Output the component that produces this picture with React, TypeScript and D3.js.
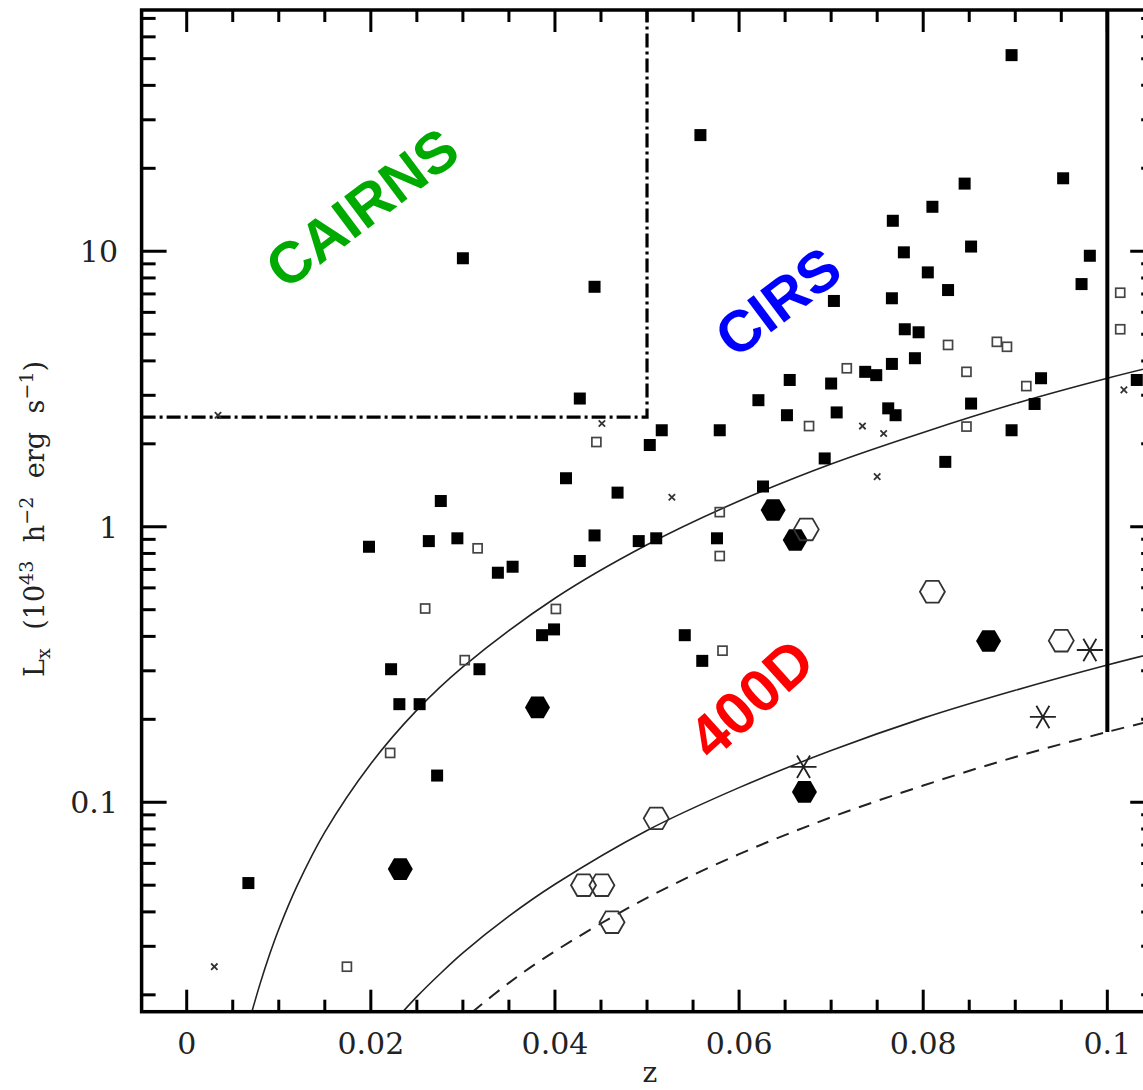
import React from "react";
import * as d3 from "d3";

const W = 1143;
const H = 1090;

// ---------- data (z, Lx in 1e43 h^-2 erg/s) ----------
const filledSqZ = [0.0558, 0.0300, 0.0443, 0.0427, 0.0516, 0.0503, 0.0579, 0.0621, 0.0896, 0.0845, 0.0952, 0.0810, 0.0767, 0.0779, 0.0852, 0.0981, 0.0972, 0.0805, 0.0827, 0.0766, 0.0703, 0.0780, 0.0795, 0.0791, 0.0766, 0.0737, 0.0749, 0.0655, 0.0700, 0.0652, 0.0706, 0.0762, 0.0770, 0.0852, 0.0896, 0.0928, 0.0921, 0.1032, 0.0412, 0.0468, 0.0626, 0.0576, 0.0276, 0.0263, 0.0294, 0.0338, 0.0354, 0.0427, 0.0443, 0.0491, 0.0510, 0.0386, 0.0399, 0.0541, 0.0560, 0.0222, 0.0318, 0.0231, 0.0253, 0.0272, 0.0198, 0.0693, 0.0824, 0.0067];
const filledSqL = [26.4, 9.43, 7.43, 2.92, 2.24, 1.98, 2.24, 2.88, 51.5, 17.6, 18.4, 14.5, 12.9, 9.91, 10.4, 9.63, 7.6, 8.38, 7.23, 6.75, 6.6, 5.21, 5.08, 4.09, 3.9, 3.65, 3.55, 3.41, 3.31, 2.54, 2.6, 2.69, 2.54, 2.8, 2.24, 3.46, 2.79, 3.41, 1.5, 1.33, 1.4, 0.908, 1.24, 0.887, 0.908, 0.681, 0.716, 0.751, 0.93, 0.887, 0.908, 0.404, 0.424, 0.404, 0.326, 0.304, 0.304, 0.227, 0.227, 0.125, 0.846, 1.77, 1.72, 0.0509];

const openSqZ = [0.0445, 0.0827, 0.0880, 0.0891, 0.0847, 0.0717, 0.0676, 0.0847, 0.0912, 0.1014, 0.1014, 0.0579, 0.0579, 0.0316, 0.0259, 0.0401, 0.0582, 0.0302, 0.0221, 0.0174];
const openSqL = [2.03, 4.57, 4.69, 4.5, 3.65, 3.76, 2.32, 2.31, 3.24, 7.07, 5.21, 1.13, 0.783, 0.835, 0.505, 0.503, 0.355, 0.328, 0.151, 0.0253];

const crossZ = [0.0451, 0.0734, 0.0757, 0.1018, 0.0527, 0.0750, 0.0030, 0.0034];
const crossL = [2.37, 2.32, 2.18, 3.14, 1.28, 1.52, 0.0253, 2.54];

const filledHexZ = [0.0637, 0.0661, 0.0871, 0.0381, 0.0671, 0.0232];
const filledHexL = [1.15, 0.895, 0.385, 0.221, 0.109, 0.0572];

const openHexZ = [0.0673, 0.0810, 0.0950, 0.0510, 0.0431, 0.0451, 0.0462];
const openHexL = [0.978, 0.581, 0.386, 0.0874, 0.05, 0.05, 0.0367];

const starZ = [0.0981, 0.0930, 0.0670];
const starL = [0.357, 0.204, 0.1345];

// flux-limit curves
const upperCurveZ = [0.007, 0.008, 0.009, 0.01, 0.012, 0.015, 0.02, 0.025, 0.03, 0.04, 0.05, 0.06, 0.07, 0.08, 0.09, 0.1, 0.106];
const upperCurveL = [0.017, 0.0221, 0.028, 0.0346, 0.0498, 0.0779, 0.138, 0.216, 0.31, 0.55, 0.86, 1.24, 1.69, 2.2, 2.8, 3.46, 3.88];
const lowerCurveZ = [0.0233, 0.025, 0.0275, 0.03, 0.035, 0.04, 0.05, 0.06, 0.07, 0.08, 0.09, 0.1, 0.106];
const lowerCurveL = [0.0171, 0.0197, 0.0238, 0.0284, 0.0386, 0.0504, 0.079, 0.113, 0.154, 0.202, 0.255, 0.315, 0.354];
const dashCurveZ = [0.031, 0.035, 0.04, 0.05, 0.06, 0.07, 0.08, 0.09, 0.1, 0.106];
const dashCurveL = [0.0173, 0.0221, 0.0288, 0.045, 0.0648, 0.0882, 0.115, 0.146, 0.18, 0.202];

// survey boundaries
const cairnsLimitZ = 0.05;
const cairnsLimitL = 2.5;
const cirsLimitZ = 0.1;

// ticks
const xMajorTicks = [0, 0.02, 0.04, 0.06, 0.08, 0.1];
const xTickLabels = ["0", "0.02", "0.04", "0.06", "0.08", "0.1"];
const yMajorTicks = [0.1, 1, 10];
const yTickLabels = ["0.1", "1", "10"];

const SERIF = "'DejaVu Serif', serif";
const SANS = "'Liberation Sans', Arial, sans-serif";

export default function App() {
  const x = d3.scaleLinear().domain([-0.0049, 0.1052]).range([141.6, 1155.2]);
  const y = d3.scaleLog().domain([0.01737, 75.1]).range([1011.7, 10]);
  const [x0, x1] = x.range();
  const [yB, yT] = y.range();

  const xMinor = d3.range(0, 0.1051, 0.005).filter(
    (v) => !xMajorTicks.some((m) => Math.abs(m - v) < 1e-9)
  );
  const yMinor: number[] = [];
  [0.01, 0.1, 1, 10].forEach((dec) => {
    for (let m = 2; m <= 9; m++) {
      const v = m * dec;
      if (v > y.domain()[0] && v < y.domain()[1]) yMinor.push(v);
    }
  });

  const line = d3
    .line<[number, number]>()
    .x((d) => x(d[0]))
    .y((d) => y(d[1]))
    .curve(d3.curveCatmullRom);

  const zip = (a: number[], b: number[]) => a.map((v, i) => [v, b[i]] as [number, number]);

  const hexPath = (cx: number, cy: number, r: number) => {
    const p = d3.path();
    for (let k = 0; k < 6; k++) {
      const a = (Math.PI / 3) * k;
      const px = cx + r * Math.cos(a);
      const py = cy + r * Math.sin(a);
      if (k === 0) p.moveTo(px, py);
      else p.lineTo(px, py);
    }
    p.closePath();
    return p.toString();
  };

  const starPath = (cx: number, cy: number, r: number) => {
    const p = d3.path();
    [0, 60, 120].forEach((deg) => {
      const a = (deg * Math.PI) / 180;
      p.moveTo(cx - r * Math.cos(a), cy - r * Math.sin(a));
      p.lineTo(cx + r * Math.cos(a), cy + r * Math.sin(a));
    });
    return p.toString();
  };

  const crossPath = (cx: number, cy: number, r: number) => {
    const p = d3.path();
    p.moveTo(cx - r, cy - r);
    p.lineTo(cx + r, cy + r);
    p.moveTo(cx + r, cy - r);
    p.lineTo(cx - r, cy + r);
    return p.toString();
  };

  const majLen = 22;
  const minLen = 12;
  const yMajLen = 25;
  const yMinLen = 14;

  return (
    <svg
      width={W}
      height={H}
      style={{ position: "absolute", left: 0, top: 0, background: "#fff" }}
    >
      <defs>
        <clipPath id="plotclip">
          <rect x={x0} y={yT} width={x1 - x0} height={yB - yT} />
        </clipPath>
      </defs>
      <rect x={0} y={0} width={W} height={H} fill="#fff" />

      <g clipPath="url(#plotclip)">
        {/* curves */}
        <path d={line(zip(upperCurveZ, upperCurveL)) || ""} fill="none" stroke="#222" strokeWidth={1.6} />
        <path d={line(zip(lowerCurveZ, lowerCurveL)) || ""} fill="none" stroke="#222" strokeWidth={1.6} />
        <path
          d={line(zip(dashCurveZ, dashCurveL)) || ""}
          fill="none"
          stroke="#222"
          strokeWidth={2}
          strokeDasharray="13 9"
        />
        {/* CAIRNS box */}
        <path
          d={`M${x0},${y(cairnsLimitL)}H${x(cairnsLimitZ)}V${yT}`}
          fill="none"
          stroke="#000"
          strokeWidth={3.2}
          strokeDasharray="14 4 3 4"
        />
        {/* CIRS limit */}
        <line
          x1={x(cirsLimitZ)}
          x2={x(cirsLimitZ)}
          y1={yT}
          y2={y(dashCurveL[dashCurveZ.indexOf(0.1)])}
          stroke="#000"
          strokeWidth={4}
        />

        {/* markers */}
        {filledSqZ.map((z, i) => (
          <rect key={"fs" + i} x={x(z) - 6} y={y(filledSqL[i]) - 6} width={12} height={12} fill="#000" />
        ))}
        {openSqZ.map((z, i) => (
          <rect
            key={"os" + i}
            x={x(z) - 4.5}
            y={y(openSqL[i]) - 4.5}
            width={9}
            height={9}
            fill="none"
            stroke="#444"
            strokeWidth={1.7}
          />
        ))}
        {crossZ.map((z, i) => (
          <path key={"cx" + i} d={crossPath(x(z), y(crossL[i]), 3.2)} stroke="#333" strokeWidth={1.8} fill="none" />
        ))}
        {filledHexZ.map((z, i) => (
          <path key={"fh" + i} d={hexPath(x(z), y(filledHexL[i]), 12.5)} fill="#000" />
        ))}
        {openHexZ.map((z, i) => (
          <path
            key={"oh" + i}
            d={hexPath(x(z), y(openHexL[i]), 12.5)}
            fill="none"
            stroke="#333"
            strokeWidth={1.8}
          />
        ))}
        {starZ.map((z, i) => (
          <path key={"st" + i} d={starPath(x(z), y(starL[i]), 13)} stroke="#222" strokeWidth={1.8} fill="none" />
        ))}
      </g>

      {/* frame */}
      <rect x={x0} y={yT} width={x1 - x0} height={yB - yT} fill="none" stroke="#000" strokeWidth={3.5} />

      {/* x ticks */}
      {xMajorTicks.map((v) => (
        <g key={"xM" + v}>
          <line x1={x(v)} x2={x(v)} y1={yB} y2={yB - majLen} stroke="#000" strokeWidth={3} />
          <line x1={x(v)} x2={x(v)} y1={yT} y2={yT + majLen} stroke="#000" strokeWidth={3} />
        </g>
      ))}
      {xMinor.map((v) => (
        <g key={"xm" + v}>
          <line x1={x(v)} x2={x(v)} y1={yB} y2={yB - minLen} stroke="#000" strokeWidth={3} />
          <line x1={x(v)} x2={x(v)} y1={yT} y2={yT + minLen} stroke="#000" strokeWidth={3} />
        </g>
      ))}
      {xMajorTicks.map((v, i) => (
        <text
          key={"xl" + v}
          x={x(v)}
          y={1054}
          textAnchor="middle"
          fontFamily={SERIF}
          fontSize={30}
          fill="#222"
        >
          {xTickLabels[i]}
        </text>
      ))}

      {/* y ticks */}
      {yMajorTicks.map((v) => (
        <g key={"yM" + v}>
          <line x1={x0} x2={x0 + yMajLen} y1={y(v)} y2={y(v)} stroke="#000" strokeWidth={3} />
          <line x1={x1} x2={x1 - yMajLen} y1={y(v)} y2={y(v)} stroke="#000" strokeWidth={3} />
        </g>
      ))}
      {yMinor.map((v) => (
        <g key={"ym" + v}>
          <line x1={x0} x2={x0 + yMinLen} y1={y(v)} y2={y(v)} stroke="#000" strokeWidth={3} />
          <line x1={x1} x2={x1 - yMinLen} y1={y(v)} y2={y(v)} stroke="#000" strokeWidth={3} />
        </g>
      ))}
      {yMajorTicks.map((v, i) => (
        <text
          key={"yl" + v}
          x={118}
          y={y(v) + 11}
          textAnchor="end"
          fontFamily={SERIF}
          fontSize={30}
          fill="#222"
        >
          {yTickLabels[i]}
        </text>
      ))}

      {/* axis titles */}
      <text x={650} y={1082} textAnchor="middle" fontFamily={SERIF} fontSize={28} fill="#222">
        z
      </text>
      <text
        transform="translate(44,519) rotate(-90)"
        textAnchor="middle"
        fontFamily={SERIF}
        fontSize={27}
        fill="#222"
        wordSpacing={10}
      >
        <tspan>L</tspan>
        <tspan fontSize={19} dy={6}>x</tspan>
        <tspan dy={-6}> (10</tspan>
        <tspan fontSize={19} dy={-11}>43</tspan>
        <tspan dy={11}> h</tspan>
        <tspan fontSize={19} dy={-11}>−2</tspan>
        <tspan dy={11}> erg s</tspan>
        <tspan fontSize={19} dy={-11}>−1</tspan>
        <tspan dy={11}>)</tspan>
      </text>

      {/* survey labels */}
      <text
        transform="translate(374,224) rotate(-37)"
        textAnchor="middle"
        fontFamily={SANS}
        fontWeight="bold"
        fontSize={58}
        fill="#00aa00"
      >
        CAIRNS
      </text>
      <text
        transform="translate(790,318) rotate(-37)"
        textAnchor="middle"
        fontFamily={SANS}
        fontWeight="bold"
        fontSize={58}
        fill="#0000ff"
      >
        CIRS
      </text>
      <text
        transform="translate(765,714) rotate(-42)"
        textAnchor="middle"
        fontFamily={SANS}
        fontWeight="bold"
        fontSize={60}
        fill="#ff0000"
      >
        400D
      </text>
    </svg>
  );
}
